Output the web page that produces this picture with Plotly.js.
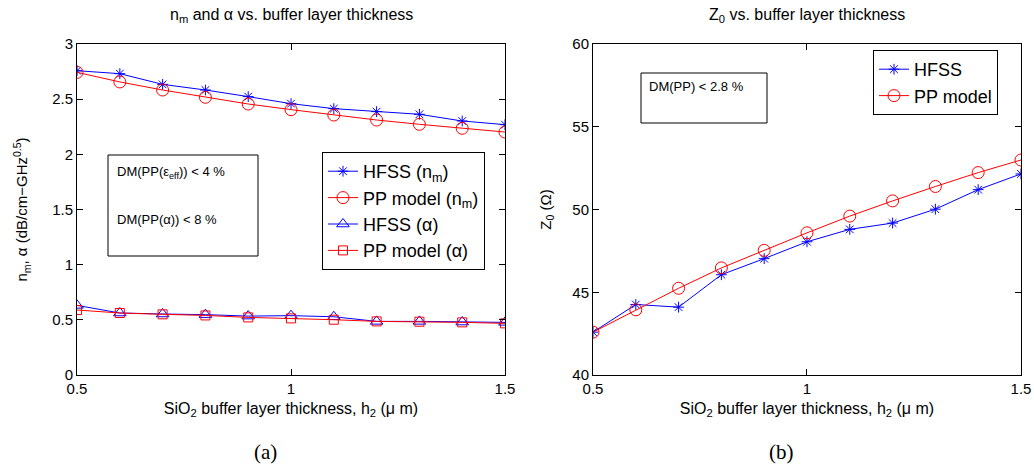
<!DOCTYPE html>
<html><head><meta charset="utf-8">
<script src="https://cdn.plot.ly/plotly-3.0.1.min.js"></script>
<style>html,body{margin:0;padding:0;background:#fff}</style>
</head><body><div id="chart" style="width:1034px;height:468px"></div>
<script>
const thickness = [0.5,0.6,0.7,0.8,0.9,1.0,1.1,1.2,1.3,1.4,1.5];
const nmHFSS = [2.758,2.731,2.634,2.583,2.523,2.459,2.414,2.387,2.363,2.302,2.269];
const nmPP = [2.743,2.656,2.583,2.517,2.456,2.405,2.356,2.311,2.272,2.236,2.202];
const alphaHFSS = [0.631,0.562,0.553,0.547,0.534,0.538,0.528,0.486,0.486,0.480,0.477];
const alphaPP = [0.589,0.562,0.550,0.540,0.522,0.513,0.501,0.486,0.483,0.477,0.468];
const z0HFSS = [42.59,44.26,44.10,46.06,47.03,48.05,48.80,49.18,50.02,51.20,52.15];
const z0PP = [42.59,43.94,45.24,46.47,47.53,48.59,49.60,50.52,51.39,52.23,52.99];

const BLUE='#0000ff', RED='#ff0000';
const F='Arial';
const NF='Arial';

function tr(x,y,name,color,symbol,size,xa,ya,leg){
  return {x:x,y:y,name:name,type:'scatter',mode:'lines+markers',xaxis:xa,yaxis:ya,legend:leg,
    line:{color:color,width:1},marker:{symbol:symbol,size:size,color:color,line:{color:color,width:1}}};
}
const data=[
  tr(thickness,nmHFSS,'HFSS (n<sub>m</sub>)',BLUE,'asterisk-open',9,'x','y','legend'),
  tr(thickness,nmPP,'PP model (n<sub>m</sub>)',RED,'circle-open',12,'x','y','legend'),
  tr(thickness,alphaHFSS,'HFSS (α)',BLUE,'triangle-up-open',11,'x','y','legend'),
  tr(thickness,alphaPP,'PP model (α)',RED,'square-open',9,'x','y','legend'),
  tr(thickness,z0HFSS,'HFSS',BLUE,'asterisk-open',9,'x2','y2','legend2'),
  tr(thickness,z0PP,'PP model',RED,'circle-open',12,'x2','y2','legend2')
];
const ax={showline:true,mirror:'ticks',linecolor:'#000',linewidth:1,ticks:'inside',ticklen:6,tickcolor:'#000',
  showgrid:false,zeroline:false,tickfont:{family:F,size:15,color:'#000'}};
const xtitle={text:'SiO<sub>2</sub> buffer layer thickness, h<sub>2</sub> (μ m)',font:{family:NF,size:16,color:'#000'},standoff:6};
const layout={
  width:1034,height:468,margin:{l:0,r:0,t:0,b:0},paper_bgcolor:'#fff',plot_bgcolor:'#fff',
  showlegend:true,
  xaxis:Object.assign({},ax,{domain:[0.0745,0.4884],range:[0.5,1.5],tickvals:[0.5,1,1.5],ticktext:['0.5','1','1.5'],anchor:'y',title:xtitle}),
  yaxis:Object.assign({},ax,{domain:[0.1987,0.906],range:[0,3],dtick:0.5,anchor:'x',
    title:{text:'n<sub>m</sub>, α (dB/cm−GHz<sup>0.5</sup>)',font:{family:F,size:15,color:'#000'},standoff:20}}),
  xaxis2:Object.assign({},ax,{domain:[0.5735,0.9874],range:[0.5,1.5],tickvals:[0.5,1,1.5],ticktext:['0.5','1','1.5'],anchor:'y2',title:xtitle}),
  yaxis2:Object.assign({},ax,{domain:[0.1987,0.906],range:[40,60],dtick:5,anchor:'x2',
    title:{text:'Z<sub>0</sub> (Ω)',font:{family:F,size:15,color:'#000'},standoff:17}}),
  legend:{x:0.3114,y:1-152/468,xanchor:'left',yanchor:'top',bgcolor:'#fff',bordercolor:'#000',borderwidth:1,
    font:{family:F,size:18,color:'#000'},traceorder:'normal'},
  legend2:{x:873/1034,y:1-50/468,xanchor:'left',yanchor:'top',bgcolor:'#fff',bordercolor:'#000',borderwidth:1,
    font:{family:F,size:18,color:'#000'},traceorder:'normal'},
  shapes:[
    {type:'rect',xref:'paper',yref:'paper',x0:108/1034,x1:258/1034,y0:1-256/468,y1:1-155/468,line:{color:'#000',width:1},fillcolor:'rgba(0,0,0,0)'},
    {type:'rect',xref:'paper',yref:'paper',x0:641/1034,x1:767/1034,y0:1-123/468,y1:1-73/468,line:{color:'#000',width:1},fillcolor:'rgba(0,0,0,0)'}
  ],
  annotations:[
    {text:'n<sub>m</sub> and α vs. buffer layer thickness',xref:'paper',yref:'paper',x:291/1034,y:1-16/468,showarrow:false,xanchor:'center',yanchor:'middle',font:{family:NF,size:16,color:'#000'}},
    {text:'Z<sub>0</sub> vs. buffer layer thickness',xref:'paper',yref:'paper',x:807/1034,y:1-16/468,showarrow:false,xanchor:'center',yanchor:'middle',font:{family:NF,size:16,color:'#000'}},
    {text:'DM(PP(ε<sub>eff</sub>)) < 4 %',xref:'paper',yref:'paper',x:115/1034,y:1-172/468,showarrow:false,xanchor:'left',yanchor:'middle',font:{family:F,size:13,color:'#000'}},
    {text:'DM(PP(α)) < 8 %',xref:'paper',yref:'paper',x:115/1034,y:1-219/468,showarrow:false,xanchor:'left',yanchor:'middle',font:{family:F,size:13,color:'#000'}},
    {text:'DM(PP) < 2.8 %',xref:'paper',yref:'paper',x:647/1034,y:1-86/468,showarrow:false,xanchor:'left',yanchor:'middle',font:{family:F,size:13,color:'#000'}},
    {text:'(a)',xref:'paper',yref:'paper',x:265/1034,y:1-452/468,showarrow:false,xanchor:'center',yanchor:'middle',font:{family:'Liberation Serif, serif',size:21,color:'#000'}},
    {text:'(b)',xref:'paper',yref:'paper',x:781/1034,y:1-452/468,showarrow:false,xanchor:'center',yanchor:'middle',font:{family:'Liberation Serif, serif',size:21,color:'#000'}}
  ]
};
Plotly.newPlot('chart',data,layout,{displayModeBar:false,staticPlot:true});
</script></body></html>
